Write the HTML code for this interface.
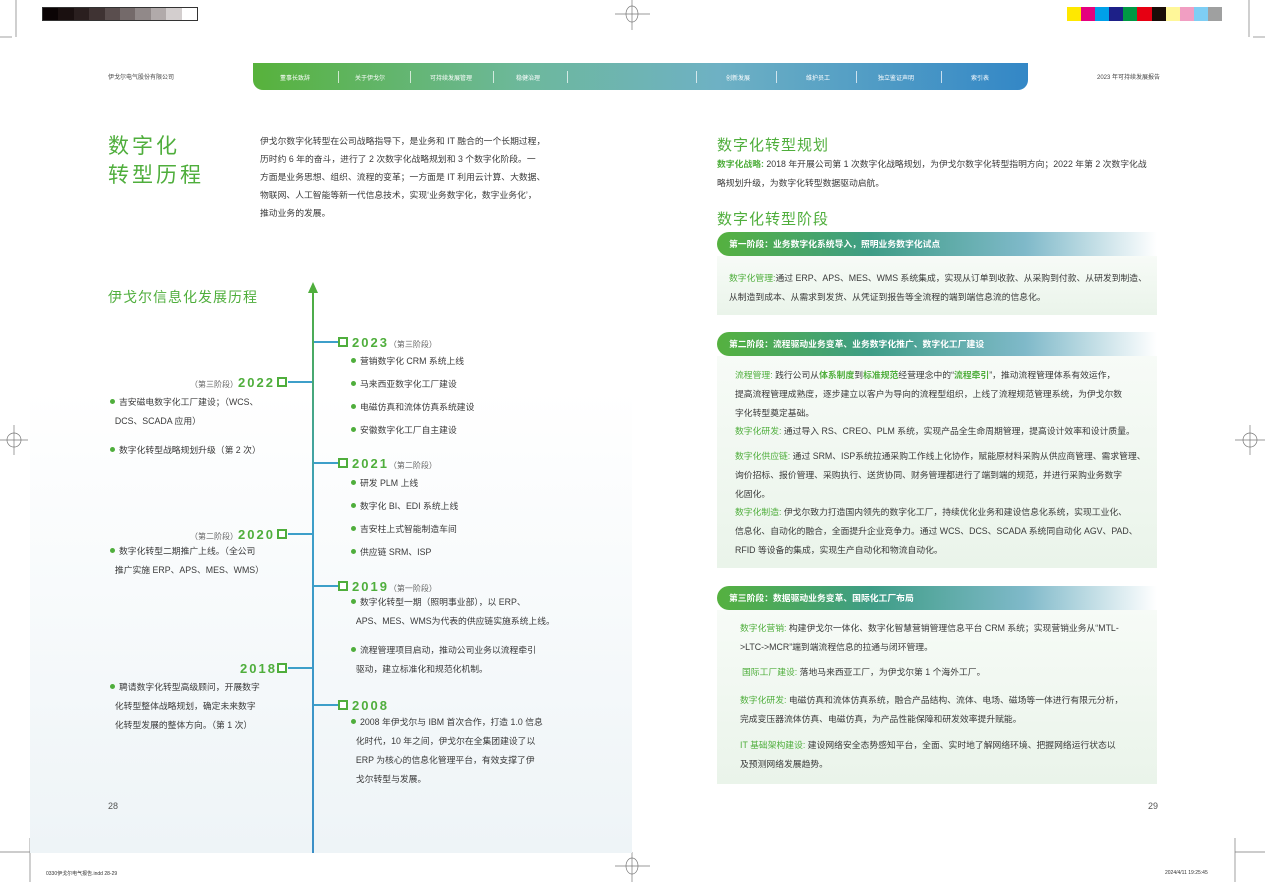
<!DOCTYPE html>
<html><head><meta charset="utf-8"><style>
*{margin:0;padding:0;box-sizing:border-box}
body{width:1265px;height:882px;position:relative;background:#fff;font-family:"Liberation Sans","Noto Sans CJK SC",sans-serif;color:#3a3a3a;overflow:hidden}
.a{position:absolute;white-space:nowrap}
.t{font-size:8.8px;line-height:19px}
.g{color:#4fae3c}
.bar{position:absolute;left:717px;width:440px;height:24px;border-radius:12px 0 0 12px;background:linear-gradient(90deg,#55b13f 0%,#3e9d86 35%,#7fb9c9 70%,#ffffff 100%);color:#fff;font-size:8.8px;font-weight:bold;line-height:24px;padding-left:12px}
.box{position:absolute;left:717px;width:440px;background:linear-gradient(180deg,#f7fbf7,#eaf4ea)}
.dot{display:inline-block;width:5px;height:5px;border-radius:50%;background:#4fae3c;margin-right:4px;vertical-align:1px}
.yr{font-size:13px;font-weight:bold;color:#4fae3c;letter-spacing:2px}
.sm{font-size:8px;color:#666;font-weight:normal;letter-spacing:0}
.sq{position:absolute;width:10px;height:10px;border:2px solid #4fae3c;background:#fff}
.sep{position:absolute;top:8px;width:1px;height:12px;background:rgba(255,255,255,.7)}
</style></head><body>
<div class="a" style="left:42px;top:7px;width:156px;height:14px;display:flex;border:1px solid #333">
<div style="flex:1;background:#0b0405"></div><div style="flex:1;background:#1a1010"></div><div style="flex:1;background:#2a1f1f"></div><div style="flex:1;background:#3f3333"></div><div style="flex:1;background:#5a4e4e"></div><div style="flex:1;background:#746a6a"></div><div style="flex:1;background:#918989"></div><div style="flex:1;background:#b1aaaa"></div><div style="flex:1;background:#d3cece"></div><div style="flex:1;background:#fff"></div></div>
<div class="a" style="left:1067px;top:7px;width:155px;height:14px;display:flex">
<div style="flex:1;background:#ffe800"></div><div style="flex:1;background:#e5007e"></div><div style="flex:1;background:#00a0e9"></div><div style="flex:1;background:#1d2088"></div><div style="flex:1;background:#009944"></div><div style="flex:1;background:#e60012"></div><div style="flex:1;background:#1a0d08"></div><div style="flex:1;background:#fff799"></div><div style="flex:1;background:#f19ec2"></div><div style="flex:1;background:#7ecef4"></div><div style="flex:1;background:#9fa0a0"></div></div>
<svg class="a" style="left:0;top:0" width="1265" height="882" stroke="#777" stroke-width="0.7" fill="none">
<line x1="632" y1="0" x2="632" y2="30"/><line x1="615" y1="14" x2="650" y2="14"/><ellipse cx="632" cy="14" rx="6" ry="8"/>
<line x1="632" y1="852" x2="632" y2="882"/><line x1="615" y1="866" x2="650" y2="866"/><ellipse cx="632" cy="866" rx="6" ry="8"/>
<line x1="0" y1="440" x2="28" y2="440"/><line x1="14" y1="425" x2="14" y2="455"/><ellipse cx="14" cy="440" rx="7" ry="7"/>
<line x1="1235" y1="440" x2="1265" y2="440"/><line x1="1250" y1="425" x2="1250" y2="455"/><ellipse cx="1250" cy="440" rx="7" ry="7"/>
<line x1="16" y1="0" x2="16" y2="37"/><line x1="0" y1="37" x2="12" y2="37"/>
<line x1="1249" y1="0" x2="1249" y2="37"/><line x1="1253" y1="37" x2="1265" y2="37"/>
<line x1="30" y1="838" x2="30" y2="882"/><line x1="0" y1="852" x2="30" y2="852"/>
<line x1="1235" y1="838" x2="1235" y2="882"/><line x1="1235" y1="852" x2="1265" y2="852"/>
</svg>
<div class="a" style="left:108px;top:72px;font-size:6px;color:#444">伊戈尔电气股份有限公司</div>
<div class="a" style="left:1097px;top:72px;font-size:6px;color:#444">2023 年可持续发展报告</div>
<div class="a" style="left:253px;top:63px;width:775px;height:27px;border-radius:0 0 10px 10px;background:linear-gradient(90deg,#57b23b,#6db89c 35%,#6eb1c4 60%,#3387c6);color:#fff;font-size:6px">
<span class="a" style="left:27px;top:10px">董事长致辞</span><span class="a" style="left:102px;top:10px">关于伊戈尔</span><span class="a" style="left:177px;top:10px">可持续发展管理</span><span class="a" style="left:263px;top:10px">稳健治理</span><span class="a" style="left:473px;top:10px">创新发展</span><span class="a" style="left:553px;top:10px">维护员工</span><span class="a" style="left:625px;top:10px">独立鉴证声明</span><span class="a" style="left:718px;top:10px">索引表</span>
<div class="sep" style="left:85px"></div><div class="sep" style="left:157px"></div><div class="sep" style="left:240px"></div><div class="sep" style="left:314px"></div><div class="sep" style="left:443px"></div><div class="sep" style="left:523px"></div><div class="sep" style="left:603px"></div><div class="sep" style="left:688px"></div></div>
<div class="a" style="left:30px;top:390px;width:602px;height:463px;background:linear-gradient(180deg,#fff,#eef4f7)"></div>
<div class="a" style="left:108px;top:132px;font-size:21px;color:#4fae3c;letter-spacing:3px;line-height:29px">数字化<br>转型历程</div>
<div class="a t" style="left:260px;top:132px;line-height:18px">伊戈尔数字化转型在公司战略指导下，是业务和 IT 融合的一个长期过程，<br>历时约 6 年的奋斗，进行了 2 次数字化战略规划和 3 个数字化阶段。一<br>方面是业务思想、组织、流程的变革；一方面是 IT 利用云计算、大数据、<br>物联网、人工智能等新一代信息技术，实现‘业务数字化，数字业务化’，<br>推动业务的发展。</div>
<div class="a" style="left:108px;top:287px;font-size:14px;color:#4fae3c;letter-spacing:1px">伊戈尔信息化发展历程</div>
<div class="a" style="left:312px;top:290px;width:2px;height:563px;background:linear-gradient(180deg,#4fae3c,#3d9fc9 40%,#3b8fc7)"></div>
<div class="a" style="left:308px;top:282px;width:0;height:0;border-left:5px solid transparent;border-right:5px solid transparent;border-bottom:11px solid #4fae3c"></div>
<div class="a" style="left:314px;top:341px;width:24px;height:2px;background:#3d9fc9"></div><div class="sq" style="left:338px;top:337px"></div>
<div class="a" style="left:314px;top:462px;width:24px;height:2px;background:#3d9fc9"></div><div class="sq" style="left:338px;top:458px"></div>
<div class="a" style="left:314px;top:585px;width:24px;height:2px;background:#3d9fc9"></div><div class="sq" style="left:338px;top:581px"></div>
<div class="a" style="left:314px;top:704px;width:24px;height:2px;background:#3d9fc9"></div><div class="sq" style="left:338px;top:700px"></div>
<div class="a" style="left:288px;top:381px;width:24px;height:2px;background:#3d9fc9"></div><div class="sq" style="left:277px;top:377px"></div>
<div class="a" style="left:288px;top:533px;width:24px;height:2px;background:#3d9fc9"></div><div class="sq" style="left:277px;top:529px"></div>
<div class="a" style="left:288px;top:667px;width:24px;height:2px;background:#3d9fc9"></div><div class="sq" style="left:277px;top:663px"></div>
<div class="a" style="left:352px;top:334px"><span class="yr">2023</span><span class="sm">（第三阶段）</span></div>
<div class="a t" style="left:351px;top:350px;line-height:23px"><span class="dot"></span>营销数字化 CRM 系统上线<br><span class="dot"></span>马来西亚数字化工厂建设<br><span class="dot"></span>电磁仿真和流体仿真系统建设<br><span class="dot"></span>安徽数字化工厂自主建设</div>
<div class="a" style="left:352px;top:455px"><span class="yr">2021</span><span class="sm">（第二阶段）</span></div>
<div class="a t" style="left:351px;top:472px;line-height:23px"><span class="dot"></span>研发 PLM 上线<br><span class="dot"></span>数字化 BI、EDI 系统上线<br><span class="dot"></span>吉安柱上式智能制造车间<br><span class="dot"></span>供应链 SRM、ISP</div>
<div class="a" style="left:352px;top:578px"><span class="yr">2019</span><span class="sm">（第一阶段）</span></div>
<div class="a t" style="left:351px;top:593px"><span class="dot"></span>数字化转型一期（照明事业部），以 ERP、<br>&nbsp;&nbsp;APS、MES、WMS为代表的供应链实施系统上线。</div>
<div class="a t" style="left:351px;top:641px"><span class="dot"></span>流程管理项目启动，推动公司业务以流程牵引<br>&nbsp;&nbsp;驱动，建立标准化和规范化机制。</div>
<div class="a" style="left:352px;top:697px"><span class="yr">2008</span></div>
<div class="a t" style="left:351px;top:713px"><span class="dot"></span>2008 年伊戈尔与 IBM 首次合作，打造 1.0 信息<br>&nbsp;&nbsp;化时代，10 年之间，伊戈尔在全集团建设了以<br>&nbsp;&nbsp;ERP 为核心的信息化管理平台，有效支撑了伊<br>&nbsp;&nbsp;戈尔转型与发展。</div>
<div class="a" style="left:190px;top:374px"><span class="sm">（第三阶段）</span><span class="yr">2022</span></div>
<div class="a t" style="left:110px;top:393px"><span class="dot"></span>吉安磁电数字化工厂建设；（WCS、<br>&nbsp;&nbsp;DCS、SCADA 应用）</div>
<div class="a t" style="left:110px;top:441px"><span class="dot"></span>数字化转型战略规划升级（第 2 次）</div>
<div class="a" style="left:190px;top:526px"><span class="sm">（第二阶段）</span><span class="yr">2020</span></div>
<div class="a t" style="left:110px;top:542px"><span class="dot"></span>数字化转型二期推广上线。（全公司<br>&nbsp;&nbsp;推广实施 ERP、APS、MES、WMS）</div>
<div class="a" style="left:240px;top:660px"><span class="yr">2018</span></div>
<div class="a t" style="left:110px;top:678px"><span class="dot"></span>聘请数字化转型高级顾问，开展数字<br>&nbsp;&nbsp;化转型整体战略规划，确定未来数字<br>&nbsp;&nbsp;化转型发展的整体方向。（第 1 次）</div>
<div class="a" style="left:108px;top:801px;font-size:9px;color:#555">28</div>
<div class="a" style="left:1148px;top:801px;font-size:9px;color:#555">29</div>
<div class="a" style="left:46px;top:870px;font-size:5px;color:#333">0330伊戈尔电气报告.indd 28-29</div>
<div class="a" style="left:1165px;top:870px;font-size:5px;color:#333">2024/4/11 19:25:45</div>
<div class="a" style="left:717px;top:134px;font-size:15px;color:#4fae3c;letter-spacing:1px">数字化转型规划</div>
<div class="a t" style="left:717px;top:155px"><b class="g">数字化战略:</b> 2018 年开展公司第 1 次数字化战略规划，为伊戈尔数字化转型指明方向；2022 年第 2 次数字化战<br>略规划升级，为数字化转型数据驱动启航。</div>
<div class="a" style="left:717px;top:208px;font-size:15px;color:#4fae3c;letter-spacing:1px">数字化转型阶段</div>
<div class="bar" style="top:232px">第一阶段：业务数字化系统导入，照明业务数字化试点</div>
<div class="box" style="top:256px;height:59px"></div>
<div class="a t" style="left:729px;top:269px"><span class="g">数字化管理:</span>通过 ERP、APS、MES、WMS 系统集成，实现从订单到收款、从采购到付款、从研发到制造、<br>从制造到成本、从需求到发货、从凭证到报告等全流程的端到端信息流的信息化。</div>
<div class="bar" style="top:332px">第二阶段：流程驱动业务变革、业务数字化推广、数字化工厂建设</div>
<div class="box" style="top:356px;height:212px"></div>
<div class="a t" style="left:735px;top:366px"><span class="g">流程管理:</span> 践行公司从<b class="g">体系制度</b>到<b class="g">标准规范</b>经营理念中的“<b class="g">流程牵引</b>”，推动流程管理体系有效运作，<br>提高流程管理成熟度，逐步建立以客户为导向的流程型组织，上线了流程规范管理系统，为伊戈尔数<br>字化转型奠定基础。</div>
<div class="a t" style="left:735px;top:422px"><span class="g">数字化研发:</span> 通过导入 RS、CREO、PLM 系统，实现产品全生命周期管理，提高设计效率和设计质量。</div>
<div class="a t" style="left:735px;top:447px"><span class="g">数字化供应链:</span> 通过 SRM、ISP系统拉通采购工作线上化协作，赋能原材料采购从供应商管理、需求管理、<br>询价招标、报价管理、采购执行、送货协同、财务管理都进行了端到端的规范，并进行采购业务数字<br>化固化。</div>
<div class="a t" style="left:735px;top:503px"><span class="g">数字化制造:</span> 伊戈尔致力打造国内领先的数字化工厂，持续优化业务和建设信息化系统，实现工业化、<br>信息化、自动化的融合，全面提升企业竞争力。通过 WCS、DCS、SCADA 系统同自动化 AGV、PAD、<br>RFID 等设备的集成，实现生产自动化和物流自动化。</div>
<div class="bar" style="top:586px">第三阶段：数据驱动业务变革、国际化工厂布局</div>
<div class="box" style="top:610px;height:174px"></div>
<div class="a t" style="left:740px;top:619px"><span class="g">数字化营销:</span> 构建伊戈尔一体化、数字化智慧营销管理信息平台 CRM 系统；实现营销业务从“MTL-<br>&gt;LTC-&gt;MCR”端到端流程信息的拉通与闭环管理。</div>
<div class="a t" style="left:742px;top:663px"><span class="g">国际工厂建设:</span> 落地马来西亚工厂，为伊戈尔第 1 个海外工厂。</div>
<div class="a t" style="left:740px;top:691px"><span class="g">数字化研发:</span> 电磁仿真和流体仿真系统，融合产品结构、流体、电场、磁场等一体进行有限元分析，<br>完成变压器流体仿真、电磁仿真，为产品性能保障和研发效率提升赋能。</div>
<div class="a t" style="left:740px;top:736px"><span class="g">IT 基础架构建设:</span> 建设网络安全态势感知平台，全面、实时地了解网络环境、把握网络运行状态以<br>及预测网络发展趋势。</div>
</body></html>
